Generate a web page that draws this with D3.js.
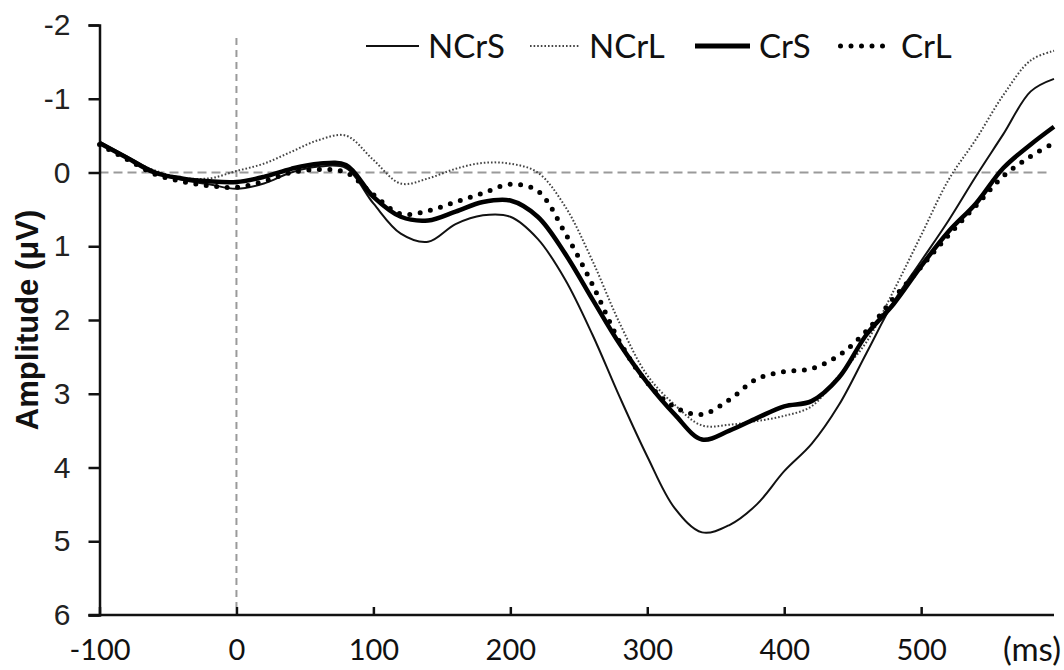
<!DOCTYPE html>
<html>
<head>
<meta charset="utf-8">
<script src="https://cdn.jsdelivr.net/npm/d3@7"></script>
<style>
  html, body { margin: 0; padding: 0; background: #fff; }
  svg { display: block; }
</style>
</head>
<body>
<svg id="chart" width="1064" height="670"></svg>
<script>
// Sample times (ms) of the averaged waveforms
const times = [-100, -80, -60, -40, -20, 0, 20, 40, 60, 80, 100, 120, 140, 160, 180, 200,
  220, 240, 260, 280, 300, 320, 340, 360, 380, 400, 420, 440, 460, 480, 500, 520,
  540, 560, 580, 597];

// Grand-average amplitudes (µV) per condition
const NCrS = [-0.42, -0.22, -0.02, 0.1, 0.16, 0.22, 0.15, 0.0, -0.08, -0.06, 0.42, 0.83,
  0.94, 0.7, 0.58, 0.6, 0.9, 1.45, 2.2, 3.05, 3.85, 4.55, 4.88, 4.78, 4.5, 4.05, 3.68,
  3.15, 2.45, 1.75, 1.2, 0.65, 0.05, -0.52, -1.1, -1.27];
const NCrL = [-0.4, -0.2, -0.03, 0.07, 0.08, -0.02, -0.12, -0.28, -0.44, -0.5, -0.17, 0.15,
  0.08, -0.05, -0.13, -0.12, 0.0, 0.46, 1.2, 2.05, 2.75, 3.15, 3.43, 3.42, 3.37, 3.3, 3.17,
  2.75, 2.3, 1.6, 0.85, 0.1, -0.45, -1.05, -1.52, -1.65];
const CrS = [-0.4, -0.2, 0.0, 0.08, 0.12, 0.13, 0.06, -0.05, -0.12, -0.1, 0.33, 0.6,
  0.65, 0.53, 0.4, 0.38, 0.6, 1.1, 1.72, 2.33, 2.85, 3.28, 3.62, 3.5, 3.33, 3.17, 3.1,
  2.78, 2.2, 1.78, 1.27, 0.8, 0.42, -0.06, -0.38, -0.62];
const CrL = [-0.38, -0.18, 0.02, 0.12, 0.18, 0.2, 0.12, 0.0, -0.04, 0.0, 0.3, 0.56,
  0.52, 0.4, 0.28, 0.16, 0.25, 0.82, 1.52, 2.3, 2.85, 3.18, 3.28, 3.08, 2.8, 2.7, 2.66,
  2.48, 2.15, 1.7, 1.28, 0.85, 0.45, 0.05, -0.22, -0.4];

const seriesNames = ["NCrS", "NCrL", "CrS", "CrL"];
const seriesValues = [NCrS, NCrL, CrS, CrL];

const xTicks = [-100, 0, 100, 200, 300, 400, 500];
const yTicks = [-2, -1, 0, 1, 2, 3, 4, 5, 6];

// Stroke style for each condition
const styles = {
  NCrS: { width: 2, dash: null, cap: "butt", color: "#111" },
  NCrL: { width: 2, dash: "1.6,2", cap: "butt", color: "#444" },
  CrS:  { width: 4.5, dash: null, cap: "butt", color: "#000" },
  CrL:  { width: 5, dash: "0,10.5", cap: "round", color: "#000" }
};

const svg = d3.select("#chart");

const x = d3.scaleLinear().domain([-100, 597]).range([99.5, 1054]);
const y = d3.scaleLinear().domain([-2, 6]).range([25, 615]);

// Plain hyphen-minus labels
const plain = d => String(d);

// Reference lines: baseline at 0 µV and stimulus onset at 0 ms
svg.append("line")
  .attr("x1", x(-100)).attr("x2", 1047)
  .attr("y1", y(0)).attr("y2", y(0))
  .attr("stroke", "#9a9a9a").attr("stroke-width", 2)
  .attr("stroke-dasharray", "9,5");
svg.append("line")
  .attr("x1", x(0)).attr("x2", x(0))
  .attr("y1", 38).attr("y2", y(6) - 8)
  .attr("stroke", "#9a9a9a").attr("stroke-width", 2)
  .attr("stroke-dasharray", "7,5");

// Y axis (ticks outside, on the left)
const yAxis = svg.append("g")
  .attr("transform", `translate(${x(-100)},0)`)
  .call(d3.axisLeft(y).tickValues(yTicks).tickSize(11).tickPadding(18).tickFormat(plain));
yAxis.select(".domain").attr("stroke", "#111").attr("stroke-width", 2.5);
yAxis.selectAll(".tick line").attr("stroke", "#111").attr("stroke-width", 2.5);
yAxis.selectAll(".tick text")
  .attr("fill", "#222")
  .style("font-family", "'Liberation Sans', Arial, sans-serif")
  .style("font-size", "30px");

// X axis (ticks point up into the plot)
const xAxis = svg.append("g")
  .attr("transform", `translate(0,${y(6)})`)
  .call(d3.axisBottom(x).tickValues(xTicks).tickSizeInner(-8).tickSizeOuter(0).tickPadding(24).tickFormat(plain));
xAxis.select(".domain")
  .attr("d", `M${x(-100) - 11},0H${x(597)}`)
  .attr("stroke", "#111").attr("stroke-width", 2.5);
xAxis.selectAll(".tick line").attr("stroke", "#111").attr("stroke-width", 2.5);
xAxis.selectAll(".tick text")
  .attr("fill", "#111")
  .style("font-family", "Lato, 'Open Sans', sans-serif")
  .style("font-size", "29px");

// Unit label at the end of the time axis
svg.append("text")
  .attr("x", 1061).attr("y", 661)
  .attr("text-anchor", "end")
  .attr("fill", "#111")
  .style("font-family", "Lato, 'Open Sans', sans-serif")
  .style("font-size", "33px")
  .text("(ms)");

// Y axis title
svg.append("text")
  .attr("transform", `translate(38,${y(2)}) rotate(-90)`)
  .attr("text-anchor", "middle")
  .attr("fill", "#111")
  .style("font-family", "'Liberation Sans', Arial, sans-serif")
  .style("font-weight", "bold")
  .style("font-size", "31px")
  .text("Amplitude (μV)");

// Waveforms
const line = d3.line()
  .x(d => x(d[0]))
  .y(d => y(d[1]))
  .curve(d3.curveCatmullRom.alpha(0.5));

const drawOrder = ["NCrL", "NCrS", "CrL", "CrS"];
drawOrder.forEach(name => {
  const vals = seriesValues[seriesNames.indexOf(name)];
  const st = styles[name];
  svg.append("path")
    .datum(times.map((t, i) => [t, vals[i]]))
    .attr("d", line)
    .attr("fill", "none")
    .attr("stroke", st.color)
    .attr("stroke-width", st.width)
    .attr("stroke-linecap", st.cap)
    .attr("stroke-linejoin", "round")
    .attr("stroke-dasharray", st.dash);
});

// Legend
const legendX = [366, 530, 695, 838];
const legendLen = [53, 50, 55, 54];
const legendY = 46;
const legend = svg.append("g");
seriesNames.forEach((name, i) => {
  const st = styles[name];
  legend.append("line")
    .attr("x1", legendX[i] + (st.cap === "round" ? 2.5 : 0))
    .attr("x2", legendX[i] + legendLen[i])
    .attr("y1", legendY).attr("y2", legendY)
    .attr("stroke", st.color)
    .attr("stroke-width", name === "CrS" ? 5 : st.width)
    .attr("stroke-linecap", st.cap)
    .attr("stroke-dasharray", st.dash);
  legend.append("text")
    .attr("x", legendX[i] + legendLen[i] + 9)
    .attr("y", legendY)
    .attr("dy", "0.36em")
    .attr("fill", "#111")
    .style("font-family", "Lato, 'Open Sans', sans-serif")
    .style("font-size", "33px")
    .text(name);
});
</script>
</body>
</html>
